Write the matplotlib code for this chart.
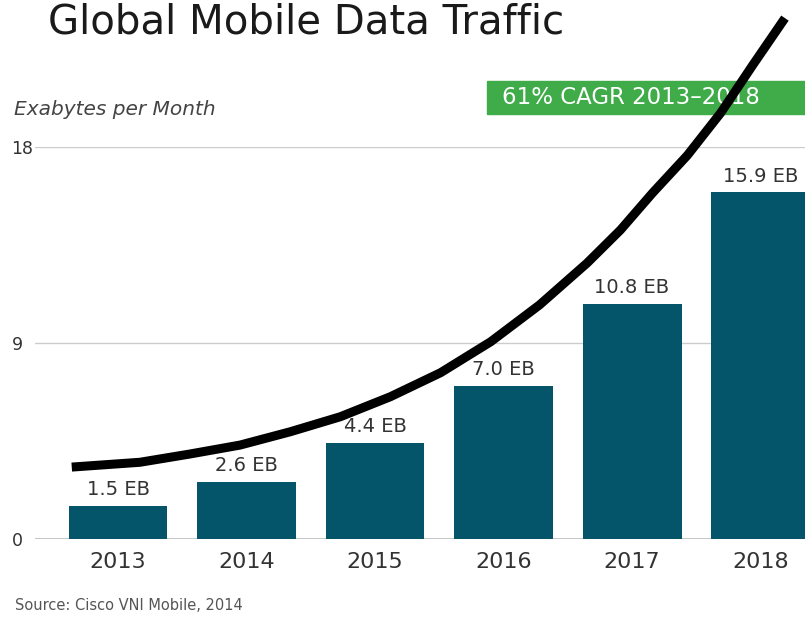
import matplotlib.pyplot as plt
from matplotlib.patches import Rectangle

# Data
years = ['2013', '2014', '2015', '2016', '2017', '2018']
traffic = [1.5, 2.6, 4.4, 7.0, 10.8, 15.9]
bar_labels = ['1.5 EB', '2.6 EB', '4.4 EB', '7.0 EB', '10.8 EB', '15.9 EB']

# growth curve (x = bar position, y = exabytes)
curve_x = [-0.36, 0.17, 0.56, 0.95, 1.34, 1.73, 2.12, 2.51, 2.90, 3.28,
           3.65, 3.91, 4.16, 4.43, 4.69, 4.94, 5.19]
curve_y = [3.30, 3.52, 3.90, 4.31, 4.92, 5.61, 6.53, 7.63, 9.05, 10.74,
           12.66, 14.18, 15.88, 17.60, 19.55, 21.75, 23.90]

yticks = [0, 9, 18]

plt.rcParams['font.family'] = ['DejaVu Sans']

fig = plt.figure(figsize=(8.05, 6.17), dpi=100)
ax = fig.add_axes([35 / 805, 78 / 617, 770 / 805, 392.3 / 617])

pos = list(range(len(years)))
bars = ax.bar(pos, traffic, width=0.77, color='#04546A', zorder=2)
ax.bar_label(bars, labels=bar_labels, padding=5, fontsize=14, color='#333333')

ax.plot(curve_x, curve_y, color='black', lw=6.5, solid_capstyle='butt',
        solid_joinstyle='round', clip_on=False, zorder=6)

ax.set_xlim(-0.646, 5.346)
ax.set_ylim(0, 18)

for s in ax.spines.values():
    s.set_visible(False)

ax.set_yticks(yticks)
ax.set_yticklabels([str(t) for t in yticks])
ax.yaxis.grid(True, color='#cccccc', lw=1)
ax.axhline(0, color='#bbbbbb', lw=1.2, zorder=1)
ax.tick_params(axis='y', length=0, pad=17, labelsize=12.5, labelcolor='#333333')
for lab in ax.get_yticklabels():
    lab.set_horizontalalignment('left')

ax.set_xticks(pos)
ax.set_xticklabels(years)
ax.tick_params(axis='x', length=0, pad=9, labelsize=16, labelcolor='#333333')

# title, axis note, source
fig.text(48 / 805, 1 - 33 / 617, 'Global Mobile Data Traffic', fontsize=29,
         color='#1a1a1a', va='baseline')
fig.text(14 / 805, 1 - 115 / 617, 'Exabytes per Month', fontsize=14.5,
         style='italic', color='#444444', va='baseline')
fig.text(15 / 805, 1 - 610 / 617, 'Source: Cisco VNI Mobile, 2014', fontsize=10.5,
         color='#555555', va='baseline')

# green CAGR tag, drawn under the curve
ax.add_patch(Rectangle((487 / 805, 1 - 114 / 617), 330 / 805, 33 / 617,
                       transform=fig.transFigure, color='#3fab49',
                       clip_on=False, zorder=4))
ax.text(502 / 805, 1 - 98 / 617, '61% CAGR 2013\u20132018', transform=fig.transFigure,
        fontsize=16.5, color='white', va='center', ha='left', zorder=5)

fig.savefig('out.png', dpi=100)
